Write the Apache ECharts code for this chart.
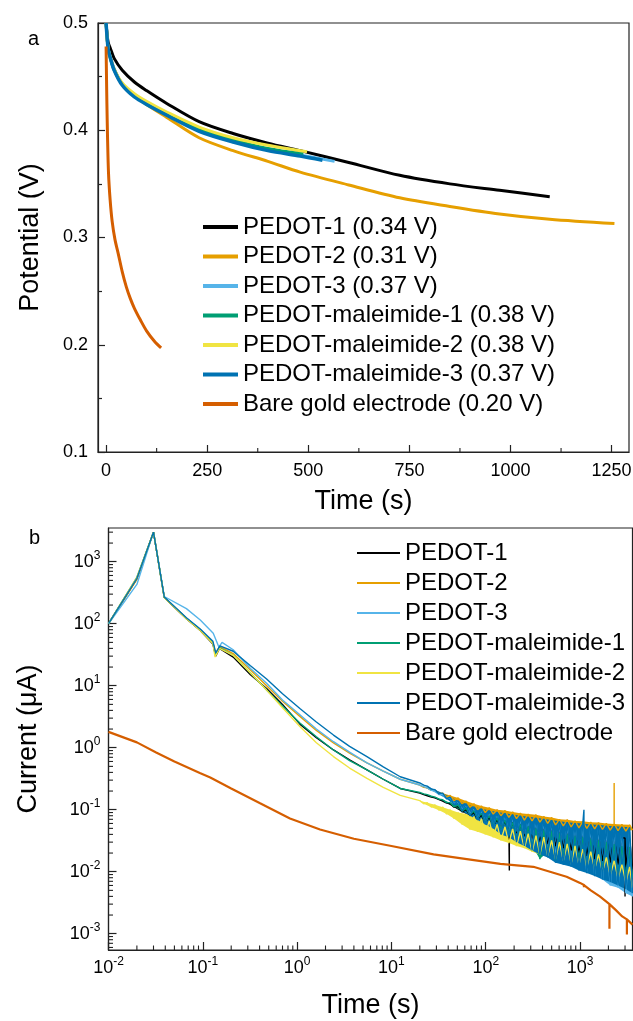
<!DOCTYPE html>
<html>
<head>
<meta charset="utf-8">
<script src="https://cdn.jsdelivr.net/npm/echarts@6/dist/echarts.min.js"></script>
<style>
  html, body { margin: 0; padding: 0; background: #fff; }
  #chart { width: 633px; height: 1021px; }
</style>
</head>
<body>
<div id="chart"></div>
<script>
// ---- panel a : potential vs time (s, V) ----
const namesA = ['PEDOT-1 (0.34 V)', 'PEDOT-2 (0.31 V)', 'PEDOT-3 (0.37 V)',
  'PEDOT-maleimide-1 (0.38 V)', 'PEDOT-maleimide-2 (0.38 V)', 'PEDOT-maleimide-3 (0.37 V)',
  'Bare gold electrode (0.20 V)'];
const potPedot1 = [[0,0.5],[5,0.482],[10,0.477],[20,0.467],[40,0.456],[70,0.445],[100,0.437],[150,0.425],
  [230,0.408],[314,0.397],[400,0.388],[480,0.381],[600,0.37],[726,0.358],[850,0.35],[973,0.344],[1097,0.338]];
const potPedot2 = [[0,0.5],[5,0.476],[10,0.469],[20,0.457],[40,0.443],[70,0.432],[100,0.424],[150,0.412],
  [230,0.393],[314,0.381],[400,0.371],[480,0.361],[600,0.349],[726,0.337],[850,0.329],[973,0.322],[1097,0.317],[1257,0.313]];
const potPedot3 = [[0,0.5],[5,0.477],[10,0.469],[20,0.457],[40,0.443],[70,0.432],[100,0.425],[150,0.415],
  [230,0.4],[314,0.39],[400,0.382],[480,0.377],[565,0.371]];
const potMal1 = [[0,0.5],[5,0.476],[10,0.468],[20,0.456],[40,0.443],[70,0.432],[100,0.425],[150,0.415],
  [230,0.401],[314,0.391],[400,0.383],[488,0.378]];
const potMal2 = [[0,0.5],[5,0.476],[10,0.468],[20,0.457],[40,0.444],[70,0.434],[100,0.427],[150,0.417],
  [230,0.403],[314,0.393],[400,0.386],[497,0.38]];
const potMal3 = [[0,0.5],[5,0.476],[10,0.468],[20,0.456],[40,0.442],[70,0.431],[100,0.424],[150,0.414],
  [230,0.399],[314,0.389],[400,0.381],[480,0.376],[535,0.372]];
const potBare = [[0,0.478],[1,0.45],[2,0.425],[3.5,0.395],[6,0.36],[10,0.335],[15,0.315],[22,0.298],
  [30,0.285],[40,0.268],[50,0.254],[60,0.243],[70,0.234],[85,0.223],[100,0.213],[120,0.203],[136,0.197]];
const ticksA = [0, 250, 500, 750, 1000, 1250];
const minorA = [125, 375, 625, 875, 1125];

// ---- panel b : current vs time (s, uA), log-log ----
const namesB = ['PEDOT-1', 'PEDOT-2', 'PEDOT-3', 'PEDOT-maleimide-1', 'PEDOT-maleimide-2',
  'PEDOT-maleimide-3', 'Bare gold electrode'];
const curHead1 = [[0.01,100],[0.02,530],[0.03,3000],[0.039,265],[0.067,120],[0.094,78],[0.128,47],[0.137,30],
  [0.15,40],[0.21,29],[0.32,15],[0.475,9],[0.7,5],[1.07,2.4],[1.6,1.45],[2.43,0.92],[3.6,0.64],[5.5,0.44],[8.2,0.31],[12.4,0.22]];
const curHead2 = [[0.01,100],[0.02,520],[0.03,3000],[0.039,265],[0.067,122],[0.094,80],[0.128,50],[0.137,33],
  [0.15,43],[0.21,33],[0.32,18],[0.475,10],[0.7,5.6],[1.07,3.2],[1.6,1.9],[2.43,1.2],[3.6,0.82],[5.5,0.57],[8.2,0.42],[12.4,0.31]];
const curHead3 = [[0.01,100],[0.02,430],[0.03,3000],[0.039,275],[0.067,175],[0.094,115],[0.129,70],[0.148,42],
  [0.16,50],[0.21,38],[0.32,19],[0.475,11],[0.7,5.9],[1.07,3.4],[1.6,2],[2.43,1.25],[3.6,0.85],[5.5,0.57],[8.2,0.42],[12.4,0.31]];
const curHeadM1 = [[0.01,100],[0.02,560],[0.03,3000],[0.039,268],[0.067,122],[0.094,80],[0.128,49],[0.136,31],
  [0.15,41],[0.21,31],[0.32,16],[0.475,8.5],[0.7,4.7],[1.07,2.5],[1.6,1.5],[2.43,0.92],[3.6,0.62],[5.5,0.44],[8.2,0.31],[12.4,0.22]];
const curHeadM2 = [[0.01,100],[0.02,560],[0.03,3000],[0.039,265],[0.067,120],[0.094,78],[0.128,48],[0.135,29],
  [0.15,40],[0.21,31],[0.32,16],[0.475,8.5],[0.7,4.4],[1.07,2.2],[1.6,1.2],[2.43,0.72],[3.6,0.47],[5.5,0.32],[8.2,0.23],[12.4,0.17]];
const curHeadM3 = [[0.01,100],[0.02,540],[0.03,3000],[0.039,270],[0.067,125],[0.094,82],[0.128,52],[0.137,34],
  [0.152,44],[0.21,36],[0.32,21],[0.475,12.8],[0.7,7.4],[1.07,4.3],[1.6,2.6],[2.43,1.6],[3.6,1.05],[5.5,0.72],[8.2,0.49],[12.4,0.34]];

// noisy tails, sampled at the same times for every sample (alternating high / low readings)
const tailTime = [20,22,24,26.5,29,32,35,38.5,42,46,51,56,62,68,75,82,90,99,109,120,132,145,160,176,193,
  212,233,257,282,310,341,375,413,454,500,550,605,665,732,805,885,974,1070,1180,1300,1430,1570,1730,1900,
  2090,2300,2530,2780,3060,3360,3600];
const curTail1 = [0.185,0.175,0.168,0.16,0.155,0.145,0.138,0.128,0.125,0.11,0.112,0.092,0.1,0.08,0.09,
  0.07,0.082,0.062,0.076,0.055,0.07,0.05,0.066,0.045,0.062,0.04,0.058,0.036,0.055,0.032,0.052,0.03,0.05,
  0.028,0.048,0.026,0.046,0.024,0.044,0.022,0.042,0.02,0.04,0.018,0.039,0.016,0.038,0.015,0.037,0.014,
  0.036,0.013,0.035,0.012,0.034,0.011];
const curTail2 = [0.25,0.23,0.225,0.205,0.205,0.18,0.185,0.16,0.17,0.14,0.155,0.125,0.138,0.11,0.125,
  0.1,0.115,0.09,0.108,0.085,0.1,0.08,0.097,0.075,0.092,0.072,0.088,0.068,0.085,0.066,0.083,0.063,0.078,
  0.06,0.075,0.057,0.07,0.055,0.069,0.053,0.066,0.051,0.065,0.05,0.063,0.049,0.062,0.048,0.06,0.047,
  0.059,0.046,0.058,0.045,0.057,0.047];
const curTail3 = [0.25,0.235,0.225,0.205,0.2,0.175,0.175,0.15,0.155,0.125,0.135,0.1,0.12,0.085,0.105,
  0.07,0.098,0.06,0.09,0.052,0.085,0.045,0.08,0.04,0.076,0.034,0.072,0.03,0.068,0.026,0.065,0.022,0.062,
  0.02,0.06,0.017,0.058,0.015,0.056,0.013,0.054,0.012,0.052,0.01,0.05,0.009,0.048,0.0075,0.047,0.006,
  0.046,0.0055,0.045,0.0045,0.044,0.004];
const curTailM1 = [0.19,0.18,0.175,0.165,0.16,0.148,0.145,0.13,0.13,0.112,0.118,0.095,0.105,0.082,0.095,
  0.072,0.088,0.062,0.08,0.055,0.074,0.048,0.068,0.042,0.062,0.036,0.058,0.03,0.054,0.026,0.05,0.016,0.047,
  0.021,0.045,0.015,0.042,0.018,0.04,0.014,0.038,0.016,0.036,0.012,0.034,0.011,0.032,0.011,0.03,0.01,
  0.028,0.009,0.026,0.0085,0.025,0.008];
const curTailM2 = [0.14,0.125,0.13,0.11,0.12,0.098,0.11,0.085,0.1,0.072,0.09,0.058,0.085,0.048,0.078,
  0.044,0.072,0.04,0.066,0.036,0.058,0.032,0.053,0.029,0.049,0.026,0.045,0.024,0.041,0.021,0.038,0.019,0.036,
  0.018,0.032,0.016,0.03,0.015,0.028,0.0135,0.026,0.013,0.023,0.012,0.021,0.011,0.019,0.01,0.017,0.0088,
  0.015,0.0078,0.013,0.0068,0.012,0.0055];
const curTailM3 = [0.27,0.25,0.24,0.215,0.21,0.18,0.185,0.15,0.16,0.12,0.14,0.095,0.125,0.08,0.112,
  0.068,0.104,0.058,0.097,0.05,0.092,0.04,0.088,0.036,0.084,0.03,0.08,0.026,0.077,0.022,0.074,0.019,0.071,
  0.017,0.068,0.014,0.065,0.013,0.063,0.012,0.061,0.0105,0.06,0.0095,0.058,0.0085,0.057,0.0075,0.055,0.0068,
  0.054,0.006,0.053,0.0052,0.052,0.0045];
// single-point spikes: [time, values...]
const spikes1 = [[178, 0.0105], [3000, 0.004]];
const spikes2 = [[2300, 0.27]];
const spikesM3 = [[1100, 0.1, 0.011]];
const curBare = [[0.01,1.8],[0.02,1.22],[0.032,0.84],[0.05,0.6],[0.093,0.39],[0.12,0.33],[0.2,0.22],[0.4,0.128],
  [0.84,0.072],[1.75,0.048],[4,0.034],[10,0.026],[28,0.019],[63,0.016],[143,0.0134],[320,0.012],[500,0.0098],
  [720,0.0083],[1000,0.0066],[1100,0.0061],[1100,0.0056],[1100,0.0061],[1300,0.005],[1620,0.004],[2050,0.003],
  [2050,0.0012],[2050,0.003],[2400,0.0024],[2800,0.0019],[3140,0.0017],[3140,0.00097],[3140,0.0017],[3600,0.0014]];

const colors = ['#000000', '#E69F00', '#56B4E9', '#009E73', '#F0E442', '#0072B2', '#D55E00'];

// axis ranges of panel b
const bxMin = 0.01, bxMax = 3600;
const byMin = 0.000546, byMax = 3500;

function buildCurrent(head, tail, spikes) {
  const pts = head.slice();
  tailTime.forEach((t, i) => pts.push([t, tail[i]]));
  (spikes || []).forEach(s => {
    const t = s[0];
    let k = pts.findIndex(p => p[0] > t);
    if (k < 0) k = pts.length;
    const base = pts[k - 1][1];
    const add = [[t, base]].concat(s.slice(1).map(v => [t, v]), [[t, base]]);
    pts.splice(k, 0, ...add);
  });
  return pts;
}

// outline of a noisy tail: high readings forward, low readings back
function bandOf(tail) {
  const up = [], lo = [];
  tail.forEach((v, i) => (i % 2 ? lo : up).push([tailTime[i], v]));
  return up.concat(lo.reverse());
}

// 2..9 x 10^d values inside [lo, hi] (minor ticks of a log axis)
function logMinor(lo, hi) {
  const out = [];
  for (let d = Math.floor(Math.log10(lo)); d <= Math.ceil(Math.log10(hi)); d++) {
    for (let k = 2; k <= 9; k++) {
      const v = k * Math.pow(10, d);
      if (v > lo && v < hi) out.push(v);
    }
  }
  return out;
}

const FONT = 'Liberation Sans, Arial, sans-serif';
const AX = '#222';

const potData = [potPedot1, potPedot2, potPedot3, potMal1, potMal2, potMal3, potBare];
const curHeads = [curHead1, curHead2, curHead3, curHeadM1, curHeadM2, curHeadM3];
const curTails = [curTail1, curTail2, curTail3, curTailM1, curTailM2, curTailM3];
const curSpikes = [spikes1, spikes2, [], [], [], spikesM3];

const series = [];
potData.forEach((d, i) => {
  series.push({
    name: namesA[i], type: 'line', xAxisIndex: 0, yAxisIndex: 0,
    data: d, smooth: 0.3, showSymbol: false, symbol: 'none',
    lineStyle: { color: colors[i], width: i === 5 ? 3.5 : 3 },
    itemStyle: { color: colors[i] },
    silent: true
  });
});
curHeads.forEach((head, i) => {
  series.push({
    name: namesB[i], type: 'line', xAxisIndex: 1, yAxisIndex: 1,
    data: buildCurrent(head, curTails[i], curSpikes[i]), showSymbol: false, symbol: 'none',
    lineStyle: { color: colors[i], width: 1.4 },
    itemStyle: { color: colors[i] },
    silent: true
  });
  // filled noise band under the jagged line
  const band = bandOf(curTails[i]);
  series.push({
    type: 'custom', xAxisIndex: 1, yAxisIndex: 1, silent: true,
    data: [band[0]],
    renderItem: function (params, api) {
      return {
        type: 'polygon',
        shape: { points: band.map(p => api.coord(p)) },
        style: { fill: colors[i] }
      };
    }
  });
});
series.push({
  name: namesB[6], type: 'line', xAxisIndex: 1, yAxisIndex: 1,
  data: curBare, showSymbol: false, symbol: 'none',
  lineStyle: { color: colors[6], width: 2.2 },
  itemStyle: { color: colors[6] },
  silent: true
});

// short inward minor ticks, placed through the axes' own scales
function minorTicks(xIdx, yIdx, points, dx, dy) {
  return {
    type: 'custom', xAxisIndex: xIdx, yAxisIndex: yIdx, silent: true, clip: false, z: 5,
    data: points,
    renderItem: function (params, api) {
      const p = api.coord([api.value(0), api.value(1)]);
      return { type: 'line', shape: { x1: p[0], y1: p[1], x2: p[0] + dx, y2: p[1] + dy },
        style: { stroke: AX, lineWidth: 1.1 } };
    }
  };
}
series.push(minorTicks(0, 0, minorA.map(v => [v, 0.1]), 0, -4));
series.push(minorTicks(1, 1, logMinor(bxMin, bxMax).map(v => [v, byMin]), 0, -4.5));
series.push(minorTicks(1, 1, logMinor(byMin, byMax).map(v => [bxMin, v]), 4.5, 0));

const supLabel = {
  formatter: v => '{b|10}{s|' + Math.round(Math.log10(v)) + '}',
  rich: {
    b: { fontSize: 18, lineHeight: 24, color: '#000', fontFamily: FONT },
    s: { fontSize: 12, lineHeight: 14, verticalAlign: 'top', color: '#000', fontFamily: FONT }
  }
};

const option = {
  animation: false,
  backgroundColor: '#fff',
  textStyle: { fontFamily: FONT },
  title: [
    { text: 'a', left: 23, top: 24, textStyle: { fontSize: 20, fontWeight: 'normal', color: '#000', fontFamily: FONT } },
    { text: 'b', left: 24, top: 523, textStyle: { fontSize: 20, fontWeight: 'normal', color: '#000', fontFamily: FONT } }
  ],
  grid: [
    { left: 98, top: 23, width: 531, height: 429, show: true, borderColor: AX, borderWidth: 1.2,
      backgroundColor: 'transparent', outerBoundsMode: 'none', containLabel: false },
    { left: 108.5, top: 528, width: 524, height: 422, show: true, borderColor: AX, borderWidth: 1.2,
      backgroundColor: 'transparent', outerBoundsMode: 'none', containLabel: false }
  ],
  legend: [
    { data: namesA, orient: 'vertical', left: 203, top: 215, padding: 0, itemGap: 5.5,
      icon: 'rect', itemWidth: 35, itemHeight: 4, selectedMode: false,
      textStyle: { fontSize: 24, color: '#000', fontFamily: FONT } },
    { data: namesB, orient: 'vertical', left: 357, top: 541, padding: 0, itemGap: 6,
      icon: 'rect', itemWidth: 43, itemHeight: 2, selectedMode: false,
      textStyle: { fontSize: 24, color: '#000', fontFamily: FONT } }
  ],
  xAxis: [
    { gridIndex: 0, type: 'value', position: 'bottom', min: -20, max: 1293,
      name: 'Time (s)', nameLocation: 'middle', nameGap: 36,
      nameTextStyle: { fontSize: 27, color: '#000', fontFamily: FONT },
      axisLine: { show: true, onZero: false, lineStyle: { color: AX, width: 1.2 } },
      axisTick: { show: true, inside: true, length: 7, customValues: ticksA, lineStyle: { color: AX, width: 1.2 } },
      axisLabel: { customValues: ticksA, formatter: v => String(v), fontSize: 18, color: '#000', margin: 10, fontFamily: FONT },
      splitLine: { show: false } },
    { gridIndex: 1, type: 'log', position: 'bottom', min: bxMin, max: bxMax,
      name: 'Time (s)', nameLocation: 'middle', nameGap: 42,
      nameTextStyle: { fontSize: 27, color: '#000', fontFamily: FONT },
      axisLine: { show: true, onZero: false, lineStyle: { color: AX, width: 1.2 } },
      axisTick: { show: true, inside: true, length: 8, lineStyle: { color: AX, width: 1.2 } },
      axisLabel: Object.assign({ margin: 6, showMinLabel: true, showMaxLabel: false }, supLabel),
      splitLine: { show: false } }
  ],
  yAxis: [
    { gridIndex: 0, type: 'value', position: 'left', min: 0.1, max: 0.5, interval: 0.1,
      name: 'Potential (V)', nameLocation: 'middle', nameGap: 54,
      nameTextStyle: { fontSize: 27, color: '#000', fontFamily: FONT },
      axisLine: { show: true, onZero: false, lineStyle: { color: AX, width: 1.2 } },
      axisTick: { show: true, inside: true, length: 7, lineStyle: { color: AX, width: 1.2 } },
      minorTick: { show: true, splitNumber: 2, length: 4, lineStyle: { color: AX, width: 1.2 } },
      axisLabel: { fontSize: 18, color: '#000', margin: 10, fontFamily: FONT },
      splitLine: { show: false }, minorSplitLine: { show: false } },
    { gridIndex: 1, type: 'log', position: 'left', min: byMin, max: byMax,
      name: 'Current (\u03bcA)', nameLocation: 'middle', nameGap: 66,
      nameTextStyle: { fontSize: 27, color: '#000', fontFamily: FONT },
      axisLine: { show: true, onZero: false, lineStyle: { color: AX, width: 1.2 } },
      axisTick: { show: true, inside: true, length: 8, lineStyle: { color: AX, width: 1.2 } },
      axisLabel: Object.assign({ margin: 8, showMinLabel: false, showMaxLabel: false }, supLabel),
      splitLine: { show: false } }
  ],
  series: series
};

const chart = echarts.init(document.getElementById('chart'));
chart.setOption(option);
window.addEventListener('resize', function () {
  chart.resize();
});
</script>
</body>
</html>
